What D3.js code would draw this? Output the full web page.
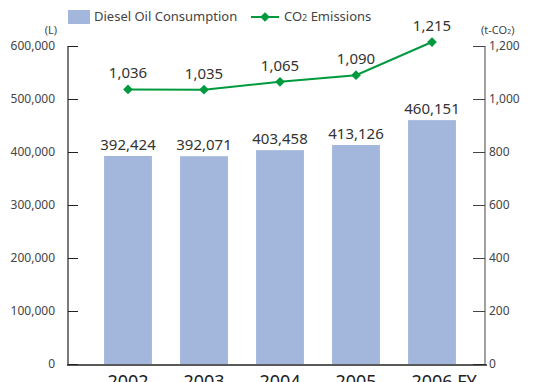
<!DOCTYPE html>
<html>
<head>
<meta charset="utf-8">
<script src="https://cdn.jsdelivr.net/npm/d3@7"></script>
<style>
  body { margin: 0; background: #fff; }
  svg { display: block; font-family: "Noto Sans", sans-serif; }
</style>
</head>
<body>
<div id="the_chart"></div>
<script>
// data
var years = ["2002", "2003", "2004", "2005", "2006"];
var yearSuffix = ["", "", "", "", " FY"];
var diesel = [392424, 392071, 403458, 413126, 460151];
var co2 = [1036, 1035, 1065, 1090, 1215];
var leftTicks = [0, 100000, 200000, 300000, 400000, 500000, 600000];
var rightTicks = [0, 200, 400, 600, 800, 1000, 1200];

var w = 534, h = 382;
// note: "top" is read-only on window, so plot edges get their own names
var plotL = 68, plotR = 485, plotT = 46, plotB = 364;
var barColor = "#a3b6dc", lineColor = "#009a3e", textColor = "#333";

var svg = d3.select("#the_chart").append("svg")
    .attr("width", w).attr("height", h);

var xscale = d3.scaleBand()
    .domain(years)
    .range([90, 470])
    .paddingInner(0.37)
    .paddingOuter(0.185);

var yleft = d3.scaleLinear().domain([0, 600000]).range([plotB, plotT]);
var yright = d3.scaleLinear().domain([0, 1200]).range([plotB, plotT]);

var fmt = d3.format(",");
function cx(i) { return xscale(years[i]) + xscale.bandwidth() / 2; }

// bars
svg.selectAll("rect.bar")
    .data(diesel)
  .enter().append("rect")
    .attr("class", "bar")
    .attr("x", function(d, i) { return xscale(years[i]); })
    .attr("width", xscale.bandwidth())
    .attr("y", function(d) { return yleft(d); })
    .attr("height", function(d) { return plotB - yleft(d); })
    .attr("fill", barColor);

svg.selectAll("text.barlab")
    .data(diesel)
  .enter().append("text")
    .attr("class", "barlab")
    .attr("x", function(d, i) { return cx(i); })
    .attr("y", function(d) { return yleft(d) - 6; })
    .attr("text-anchor", "middle")
    .attr("font-size", 15)
    .attr("fill", textColor)
    .text(function(d) { return fmt(d); });

// left axis (ticks point inward)
var yaxisL = d3.axisRight(yleft).tickValues(leftTicks).tickSize(10).tickFormat("");
var gL = svg.append("g").attr("transform", "translate(" + plotL + ",0)").call(yaxisL);
gL.select(".domain").remove();
gL.selectAll(".tick line").attr("stroke", "#222");
svg.append("line").attr("x1", plotL).attr("x2", plotL).attr("y1", plotT).attr("y2", plotB + 1)
    .attr("stroke", "#222").attr("stroke-width", 1.2);
svg.selectAll("text.lt").data(leftTicks).enter().append("text")
    .attr("class", "lt")
    .attr("x", 55).attr("y", function(d) { return yleft(d) + 4; })
    .attr("text-anchor", "end").attr("font-size", 12).attr("fill", "#444")
    .text(function(d) { return fmt(d); });
svg.append("text").attr("x", 57).attr("y", 34).attr("text-anchor", "end")
    .attr("font-size", 11).attr("fill", "#444").text("(L)");

// right axis
var yaxisR = d3.axisLeft(yright).tickValues(rightTicks).tickSize(12).tickFormat("");
var gR = svg.append("g").attr("transform", "translate(" + plotR + ",0)").call(yaxisR);
gR.select(".domain").remove();
gR.selectAll(".tick line").attr("stroke", "#444");
svg.append("line").attr("x1", plotR).attr("x2", plotR).attr("y1", plotT).attr("y2", plotB + 1)
    .attr("stroke", "#444").attr("stroke-width", 1);
svg.selectAll("text.rt").data(rightTicks).enter().append("text")
    .attr("class", "rt")
    .attr("x", 489).attr("y", function(d) { return yright(d) + 4; })
    .attr("text-anchor", "start").attr("font-size", 12).attr("fill", "#444")
    .text(function(d) { return fmt(d); });
var unitR = svg.append("text").attr("x", 481).attr("y", 34)
    .attr("font-size", 11).attr("fill", "#444");
unitR.append("tspan").text("(t-CO");
unitR.append("tspan").attr("font-size", 7).text("2");
unitR.append("tspan").text(")");

// bottom axis line
svg.append("line").attr("x1", plotL - 1).attr("x2", plotR + 2).attr("y1", plotB + 1).attr("y2", plotB + 1)
    .attr("stroke", "#222").attr("stroke-width", 1.5);

svg.selectAll("text.xl").data(years).enter().append("text")
    .attr("class", "xl")
    .attr("y", 388)
    .attr("font-size", 18)
    .attr("fill", "#222")
    .each(function(d, i) {
        var t = d3.select(this);
        var yr = t.append("tspan").text(d);
        var wy = yr.node().getComputedTextLength();
        t.append("tspan").text(yearSuffix[i]);
        t.attr("x", cx(i) - wy / 2);
    });

// CO2 line
var line = d3.line()
    .x(function(d, i) { return cx(i); })
    .y(function(d) { return yright(d); });

svg.append("path").datum(co2)
    .attr("d", line).attr("fill", "none")
    .attr("stroke", lineColor).attr("stroke-width", 2);

var diamond = d3.symbol().type(d3.symbolDiamond2).size(60);
svg.selectAll("path.pt").data(co2).enter().append("path")
    .attr("class", "pt")
    .attr("d", diamond)
    .attr("transform", function(d, i) {
        return "translate(" + cx(i) + "," + yright(d) + ")";
    })
    .attr("fill", lineColor);

svg.selectAll("text.ptlab").data(co2).enter().append("text")
    .attr("class", "ptlab")
    .attr("x", function(d, i) { return cx(i); })
    .attr("y", function(d) { return yright(d) - 11; })
    .attr("text-anchor", "middle").attr("font-size", 15).attr("fill", textColor)
    .text(function(d) { return fmt(d); });

// legend
svg.append("rect").attr("x", 68).attr("y", 10).attr("width", 22).attr("height", 14).attr("fill", barColor);
svg.append("text").attr("x", 94).attr("y", 21).attr("font-size", 13).attr("fill", "#444")
    .text("Diesel Oil Consumption");
svg.append("line").attr("x1", 251).attr("x2", 279).attr("y1", 17).attr("y2", 17)
    .attr("stroke", lineColor).attr("stroke-width", 2);
svg.append("path").attr("d", diamond).attr("transform", "translate(265,17)").attr("fill", lineColor);
var lg = svg.append("text").attr("x", 284).attr("y", 21).attr("font-size", 13).attr("fill", "#444");
lg.append("tspan").text("CO");
lg.append("tspan").attr("font-size", 9).text("2");
lg.append("tspan").text(" Emissions");
</script>
</body>
</html>
